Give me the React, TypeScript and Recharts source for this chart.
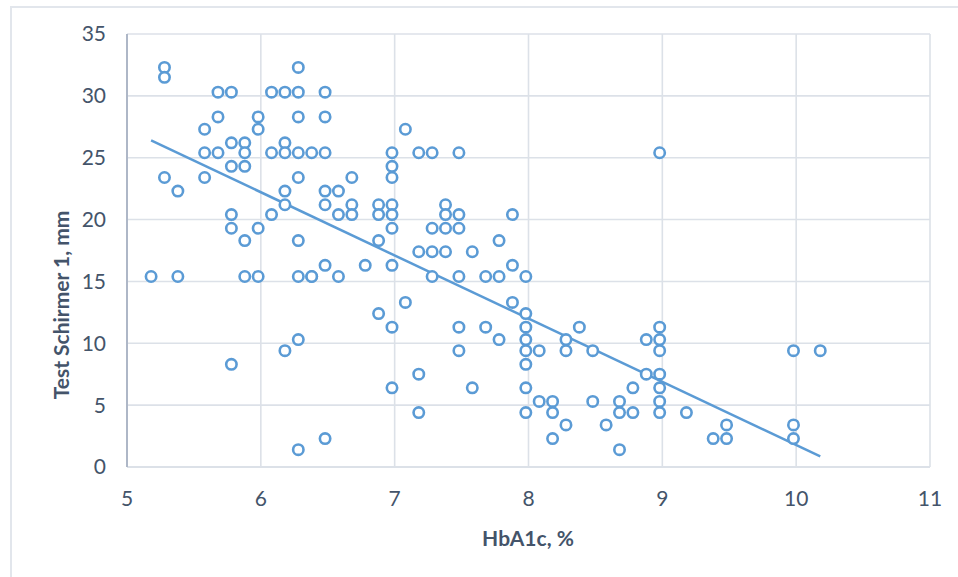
import { CartesianGrid, Scatter, ScatterChart, XAxis, YAxis } from "recharts";

const BLUE = "#5B9BD5";
const GRID = "#DCE1E8";
const AXIS = "#AEB7C7";
const TEXT = "#44546A";
const FONT = "Lato, 'Open Sans', sans-serif";

// HbA1c levels (x) and the Schirmer readings found at each of them
const hba1cLevels = [
  5.18, 5.28, 5.38, 5.58, 5.68, 5.78, 5.88, 5.98, 6.08, 6.18, 6.28, 6.38, 6.48, 6.58,
  6.68, 6.78, 6.88, 6.98, 7.08, 7.18, 7.28, 7.38, 7.48, 7.58, 7.68, 7.78, 7.88, 7.98,
  8.08, 8.18, 8.28, 8.38, 8.48, 8.58, 8.68, 8.78, 8.88, 8.98, 9.18, 9.38, 9.48, 9.98,
  10.18,
];

const schirmerByLevel = [
  [15.4],
  [32.3, 31.5, 23.4],
  [22.3, 15.4],
  [27.3, 25.4, 23.4],
  [30.3, 28.3, 25.4],
  [30.3, 26.2, 24.3, 20.4, 19.3, 8.3],
  [26.2, 25.4, 24.3, 18.3, 15.4],
  [28.3, 27.3, 19.3, 15.4],
  [30.3, 25.4, 20.4],
  [30.3, 26.2, 25.4, 22.3, 21.2, 9.4],
  [32.3, 30.3, 28.3, 25.4, 23.4, 18.3, 15.4, 10.3, 1.4],
  [25.4, 15.4, 15.4],
  [30.3, 28.3, 25.4, 22.3, 21.2, 16.3, 2.3],
  [22.3, 20.4, 15.4],
  [23.4, 21.2, 20.4],
  [16.3],
  [21.2, 20.4, 18.3, 12.4],
  [25.4, 24.3, 23.4, 21.2, 20.4, 19.3, 16.3, 11.3, 6.4],
  [27.3, 13.3],
  [25.4, 17.4, 7.5, 4.4],
  [25.4, 19.3, 17.4, 15.4],
  [21.2, 20.4, 19.3, 17.4],
  [25.4, 20.4, 19.3, 15.4, 11.3, 9.4],
  [17.4, 6.4],
  [15.4, 11.3],
  [18.3, 15.4, 10.3],
  [20.4, 16.3, 13.3],
  [15.4, 12.4, 11.3, 10.3, 9.4, 8.3, 6.4, 4.4],
  [9.4, 5.3],
  [5.3, 4.4, 2.3],
  [10.3, 9.4, 3.4],
  [11.3],
  [9.4, 5.3],
  [3.4],
  [5.3, 4.4, 1.4],
  [6.4, 4.4],
  [10.3, 7.5],
  [25.4, 11.3, 10.3, 9.4, 7.5, 6.4, 5.3, 4.4],
  [4.4],
  [2.3],
  [3.4, 2.3],
  [9.4, 3.4, 2.3],
  [9.4],
];

// linear trend, drawn over the data range
const trendX = [5.18, 10.18];
const trendY = [26.4, 0.85];

const xTicks = [5, 6, 7, 8, 9, 10, 11];
const yTicks = [0, 5, 10, 15, 20, 25, 30, 35];

const points = hba1cLevels.flatMap((x, i) => schirmerByLevel[i].map((y) => ({ x, y })));
const trend = trendX.map((x, i) => ({ x, y: trendY[i] }));

function Ring(props: { cx?: number; cy?: number }) {
  if (props.cx == null || props.cy == null) return <g />;
  return <circle cx={props.cx} cy={props.cy} r={5.2} fill="#fff" stroke={BLUE} strokeWidth={2.6} />;
}

const tickStyle = { fill: TEXT, fontSize: 21, fontFamily: FONT };

export default function App() {
  return (
    <div
      style={{
        position: "absolute",
        left: 0,
        top: 0,
        width: 958,
        height: 577,
        overflow: "hidden",
        background: "#fff",
        fontFamily: FONT,
      }}
    >
      <div
        style={{
          position: "absolute",
          left: 10,
          top: 6,
          width: 970,
          height: 600,
          border: "2px solid #E2E6EC",
          boxSizing: "border-box",
        }}
      />
      <div style={{ position: "absolute", left: 0, top: 0 }}>
        <ScatterChart width={958} height={577} margin={{ top: 34, right: 28, bottom: 40, left: 67 }}>
          <CartesianGrid stroke={GRID} strokeWidth={1.6} />
          <XAxis
            type="number"
            dataKey="x"
            domain={[5, 11]}
            ticks={xTicks}
            height={70}
            tickLine={false}
            axisLine={{ stroke: GRID, strokeWidth: 2 }}
            tick={tickStyle}
            tickMargin={18}
          />
          <YAxis
            type="number"
            dataKey="y"
            domain={[0, 35]}
            ticks={yTicks}
            width={60}
            tickLine={false}
            axisLine={{ stroke: AXIS, strokeWidth: 2 }}
            tick={tickStyle}
            tickMargin={15}
          />
          <Scatter
            data={trend}
            line={{ stroke: BLUE, strokeWidth: 2.5 }}
            shape={() => <g />}
            isAnimationActive={false}
          />
          <Scatter data={points} shape={Ring} isAnimationActive={false} />
        </ScatterChart>
      </div>
      <div
        style={{
          position: "absolute",
          left: 60,
          top: 305,
          transform: "translate(-50%, -50%) rotate(-90deg)",
          whiteSpace: "nowrap",
          fontWeight: 700,
          fontSize: 21,
          color: TEXT,
        }}
      >
        Test Schirmer 1, mm
      </div>
      <div
        style={{
          position: "absolute",
          left: 528,
          top: 537,
          transform: "translate(-50%, -50%)",
          whiteSpace: "nowrap",
          fontWeight: 700,
          fontSize: 21,
          color: TEXT,
        }}
      >
        HbA1c, %
      </div>
    </div>
  );
}
